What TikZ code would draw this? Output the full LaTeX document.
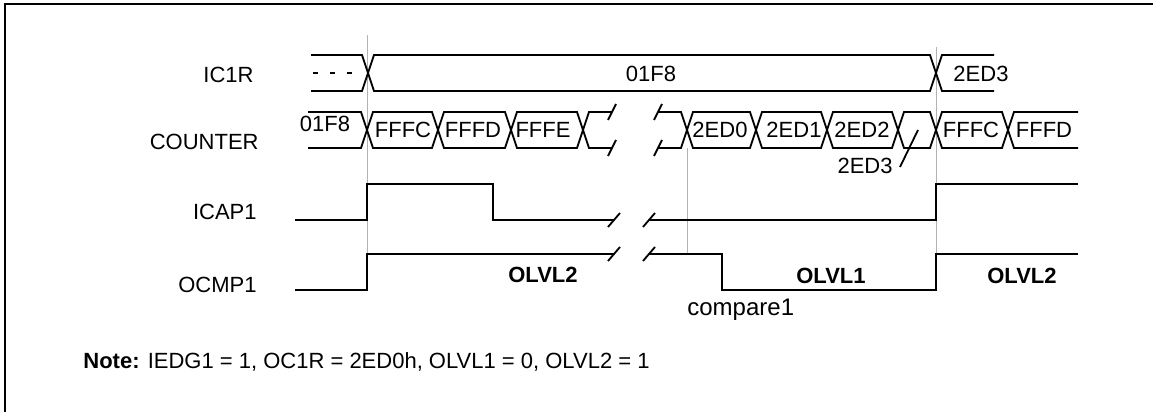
\documentclass[tikz,border=0pt]{standalone}
\usepackage{fontspec}
\setmainfont{Liberation Sans}
\usepackage{xcolor}

\begin{document}
\begin{tikzpicture}[x=.5pt, y=-.5pt,
  wave/.style={black, line width=.9pt},
  marker/.style={black!30, line width=.4pt},
  txt/.style={inner sep=0pt, font=\fontsize{11}{13}\selectfont},
  lvl/.style={txt, anchor=base, font=\fontsize{11}{13}\selectfont\bfseries}]
  \useasboundingbox (0,0) rectangle (1153,412);
  \draw [black, line width=1.3pt]    (5,412) -- (5,4) -- (1153,4);

  % markers
  \draw [marker]    (367,35) -- (367,254);
  \draw [marker]    (687,148) -- (687,254);
  \draw [marker]    (936,47) -- (936,254);

  % signal names
  \node [txt, anchor=base east] (ic1r) at (254,83) {IC1R};
  \node [txt, anchor=base east] (counter) at (259,149) {COUNTER};
  \node [txt, anchor=base east] (icap1) at (257,219) {ICAP1};
  \node [txt, anchor=base east] (ocmp1) at (257,292) {OCMP1};

  % IC1R
  \draw [wave]    (311,55) -- (362,55) -- (374,91) -- (930,91) -- (942,55) -- (994,55);
  \draw [wave]    (311,91) -- (362,91) -- (374,55) -- (930,55) -- (942,91) -- (994,91);
  \draw [black, line width=.9pt, dash pattern=on 2.5pt off 6pt]    (313,73) -- (356,73);
  \node [txt, anchor=base] (ic1rold) at (651,82) {01F8};
  \node [txt, anchor=base] (ic1rnew) at (981,81) {2ED3};

  % COUNTER
  \draw [wave]    (308,112) -- (361,112) -- (373,148) -- (432,148) -- (444,112) -- (505,112) -- (517,148) -- (577,148) -- (589,112) -- (612,112);
  \draw [wave]    (308,148) -- (361,148) -- (373,112) -- (432,112) -- (444,148) -- (505,148) -- (517,112) -- (577,112) -- (589,148) -- (612,148);
  \draw [wave]    (608,120) -- (616,104);
  \draw [wave]    (608,156) -- (616,140);
  \draw [wave]    (654,120) -- (662,104);
  \draw [wave]    (654,156) -- (662,140);
  \draw [wave]    (658,112) -- (681,112) -- (693,148) -- (750,148) -- (762,112) -- (821,112) -- (833,148) -- (892,148) -- (904,112) -- (930,112) -- (942,148) -- (1002,148) -- (1014,112) -- (1078,112);
  \draw [wave]    (658,148) -- (681,148) -- (693,112) -- (750,112) -- (762,148) -- (821,148) -- (833,112) -- (892,112) -- (904,148) -- (930,148) -- (942,112) -- (1002,112) -- (1014,148) -- (1078,148);
  \node [txt, anchor=base] (c0) at (325,131) {01F8};
  \node [txt, anchor=base] (c1) at (403,137) {FFFC};
  \node [txt, anchor=base] (c2) at (473,137) {FFFD};
  \node [txt, anchor=base] (c3) at (543,137) {FFFE};
  \node [txt, anchor=base] (c4) at (720,137) {2ED0};
  \node [txt, anchor=base] (c5) at (794,137) {2ED1};
  \node [txt, anchor=base] (c6) at (862,137) {2ED2};
  \node [txt, anchor=base] (c8) at (971,137) {FFFC};
  \node [txt, anchor=base] (c9) at (1044,137) {FFFD};
  \node [txt, anchor=base east] (c7) at (893,173) {2ED3};
  \coordinate (c7from) at (900,167);
  \coordinate (c7to) at (918,130);
  \draw [wave]    (c7from) -- (c7to);

  % ICAP1
  \draw [wave]    (295,220) -- (367,220) -- (367,184) -- (493,184) -- (493,220) -- (614,220);
  \draw [wave]    (608,227) -- (620,213);
  \draw [wave]    (643,227) -- (655,213);
  \draw [wave]    (649,220) -- (936,220) -- (936,184) -- (1078,184);

  % OCMP1
  \draw [wave]    (295,290) -- (367,290) -- (367,254) -- (614,254);
  \draw [wave]    (608,261) -- (620,247);
  \draw [wave]    (643,261) -- (655,247);
  \draw [wave]    (649,254) -- (722,254) -- (722,290) -- (936,290) -- (936,254) -- (1078,254);
  \node [lvl] (lvla) at (543,282) {OLVL2};
  \node [lvl] (lvlb) at (831,283) {OLVL1};
  \node [lvl] (lvlc) at (1022,283) {OLVL2};
  \node [txt, anchor=base west, font=\fontsize{12}{14}\selectfont] (cmp) at (687,315) {compare1};

  \node [txt, anchor=base west] (note) at (83,368) {\textbf{Note:} IEDG1 = 1, OC1R = 2ED0h, OLVL1 = 0, OLVL2 = 1};
\end{tikzpicture}
\end{document}
